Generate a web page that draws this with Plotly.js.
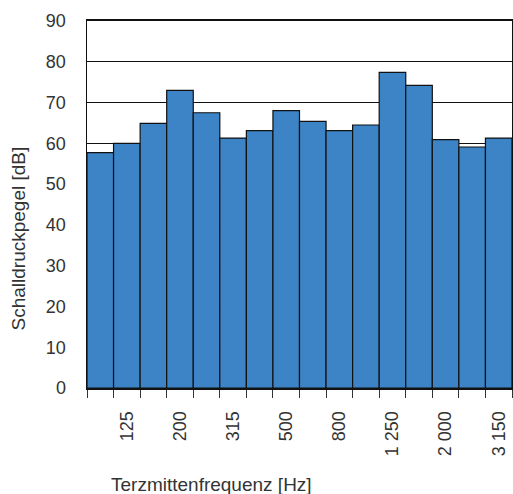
<!DOCTYPE html>
<html><head><meta charset="utf-8">
<script src="https://cdn.plot.ly/plotly-3.0.1.min.js"></script>
<style>html,body{margin:0;padding:0;background:#fff}#c{width:513px;height:494px}</style>
</head><body><div id="c"></div>
<script>
const frequencies = ['100','125','160','200','250','315','400','500','630','800','1000','1250','1600','2000','2500','3150'];
const levels = [57.7, 60.0, 64.9, 73.0, 67.5, 61.3, 63.1, 68.0, 65.4, 63.1, 64.5, 77.4, 74.2, 60.9, 59.1, 61.3];
const tickLabels = ['', '125', '', '200', '', '315', '', '500', '', '800', '', '1 250', '', '2 000', '', '3 150'];
const yTicks = [0,10,20,30,40,50,60,70,80,90];

const tickFont = {family: 'Liberation Sans, Arial, sans-serif', size: 18, color: '#333'};
const titleFont = {family: 'Liberation Sans, Arial, sans-serif', size: 19, color: '#333'};

Plotly.newPlot('c', [{
  type: 'bar',
  x: frequencies,
  y: levels,
  width: 1,
  marker: {color: '#3d84c6', line: {color: '#111', width: 1.2}},
  hoverinfo: 'skip'
}], {
  width: 513, height: 494,
  margin: {l: 87, r: 1, t: 21, b: 106},
  paper_bgcolor: '#fff', plot_bgcolor: '#fff',
  showlegend: false,
  bargap: 0,
  font: tickFont,
  xaxis: {
    type: 'category',
    tickmode: 'array', tickvals: frequencies, ticktext: tickLabels,
    tickson: 'boundaries', ticks: 'outside', ticklen: 8, tickwidth: 1, tickcolor: '#333',
    tickangle: -90, tickfont: tickFont,
    showline: true, linecolor: '#111', linewidth: 2, mirror: true,
    showgrid: false, zeroline: false,
    ticklabelstandoff: 14,
    range: [-0.5, 15.5]
  },
  yaxis: {
    range: [0, 90], tickmode: 'array', tickvals: yTicks,
    ticks: '', tickfont: tickFont, ticklabelstandoff: 16,
    showgrid: true, gridcolor: '#111', gridwidth: 1,
    showline: true, linecolor: '#111', linewidth: 1.5, mirror: true,
    zeroline: false
  },
  annotations: [
    {text: 'Terzmittenfrequenz [Hz]', xref: 'paper', yref: 'paper', x: 0.292, y: 0, yshift: -96,
     xanchor: 'center', yanchor: 'middle', showarrow: false, font: titleFont},
    {text: 'Schalldruckpegel [dB]', xref: 'paper', yref: 'paper', x: 0, xshift: -81, y: 0.406,
     xanchor: 'left', yanchor: 'middle', textangle: -90, showarrow: false, font: titleFont}
  ]
}, {displayModeBar: false, staticPlot: true});
</script></body></html>
